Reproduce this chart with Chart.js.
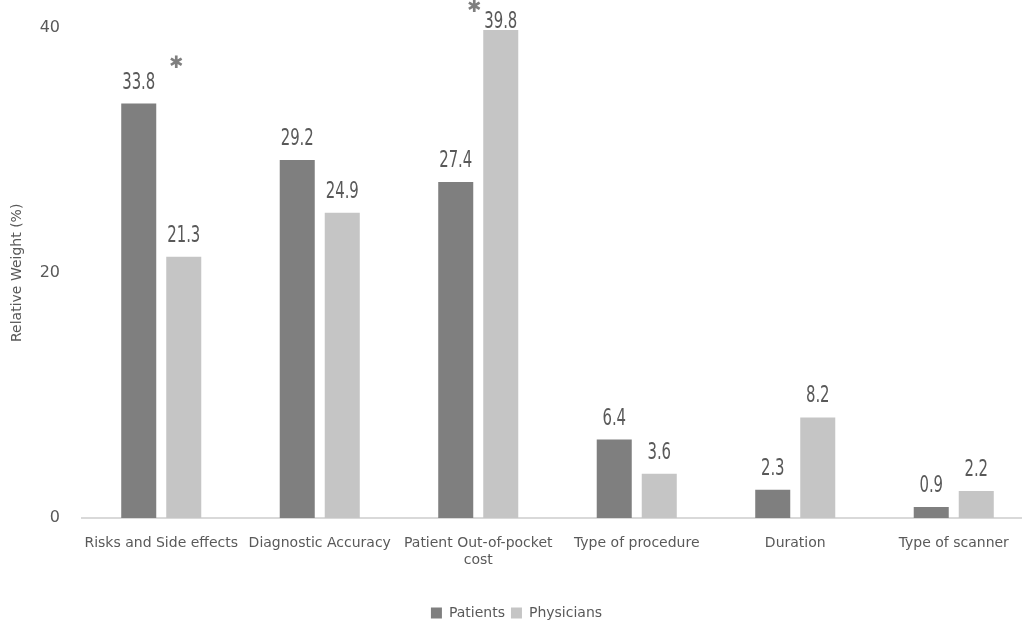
<!DOCTYPE html>
<html>
<head>
<meta charset="utf-8">
<script src="https://cdn.jsdelivr.net/npm/chart.js@4/dist/chart.umd.min.js"></script>
<style>
  html, body { margin: 0; padding: 0; background: #fff; overflow: hidden; }
  #wrap { width: 1033px; height: 634px; margin-top: -4px; }
</style>
</head>
<body>
<div id="wrap"><canvas id="weights"></canvas></div>
<script>
const categories = [
  'Risks and Side effects',
  'Diagnostic Accuracy',
  ['Patient Out-of-pocket', 'cost'],
  'Type of procedure',
  'Duration',
  'Type of scanner'
];
const patients = [33.8, 29.2, 27.4, 6.4, 2.3, 0.9];
const physicians = [21.3, 24.9, 39.8, 3.6, 8.2, 2.2];
// significance markers: category index and the height (in %) they sit at
const starIndex = [0, 2];
const starLevel = [37.1, 41.6];

const FAMILY = '"DejaVu Sans", sans-serif';
const STRETCH = 'condensed';
const TEXT = '#595959';

// value labels above each bar, squeezed horizontally for a tall narrow look;
// labels never rise above the top of the plot area
const barLabels = {
  id: 'barLabels',
  afterDatasetsDraw(chart) {
    const ctx = chart.ctx;
    const sx = 0.72;
    const top = chart.chartArea.top;
    ctx.save();
    ctx.font = 'condensed 23px ' + FAMILY;
    ctx.fillStyle = TEXT;
    ctx.textAlign = 'center';
    ctx.textBaseline = 'alphabetic';
    ctx.scale(sx, 1);
    chart.data.datasets.forEach((ds, i) => {
      chart.getDatasetMeta(i).data.forEach((bar, j) => {
        ctx.fillText(ds.data[j].toFixed(1), bar.x / sx, Math.max(bar.y - 15, top));
      });
    });
    ctx.restore();
  }
};

// asterisks next to the bar pairs that differ significantly
const stars = {
  id: 'stars',
  afterDatasetsDraw(chart) {
    const ctx = chart.ctx;
    const y = chart.scales.y;
    const bars = chart.getDatasetMeta(1).data;
    const shift = [10, -9];
    ctx.save();
    ctx.font = '17px ' + FAMILY;
    ctx.fillStyle = '#7f7f7f';
    ctx.textAlign = 'center';
    ctx.textBaseline = 'middle';
    starIndex.forEach((idx, k) => {
      const bar = bars[idx];
      ctx.fillText('\u2731', bar.x - bar.width / 2 + shift[k], y.getPixelForValue(starLevel[k]));
    });
    ctx.restore();
  }
};

new Chart(document.getElementById('weights'), {
  type: 'bar',
  data: {
    labels: categories,
    datasets: [
      {
        label: 'Patients',
        data: patients,
        backgroundColor: '#7f7f7f',
        categoryPercentage: 0.568,
        barPercentage: 0.778
      },
      {
        label: 'Physicians',
        data: physicians,
        backgroundColor: '#c5c5c5',
        categoryPercentage: 0.568,
        barPercentage: 0.778
      }
    ]
  },
  options: {
    responsive: true,
    maintainAspectRatio: false,
    animation: false,
    layout: { padding: { top: 17, right: 0, left: 0, bottom: 0 } },
    scales: {
      x: {
        grid: { display: false, drawTicks: false },
        border: { display: true, color: '#d9d9d9', width: 2 },
        ticks: {
          color: TEXT,
          font: { family: FAMILY, style: STRETCH, size: 14 },
          padding: 17,
          maxRotation: 0,
          autoSkip: false
        },
        afterFit(scale) { scale.height = 82; }
      },
      y: {
        min: 0,
        max: 40,
        grid: { display: false, drawTicks: false },
        border: { display: false },
        ticks: {
          stepSize: 20,
          color: TEXT,
          font: { family: FAMILY, style: STRETCH, size: 16 },
          padding: 22
        },
        title: {
          display: true,
          text: 'Relative Weight (%)',
          color: TEXT,
          font: { family: FAMILY, style: STRETCH, size: 14 },
          padding: { top: 9, bottom: 0 }
        },
        afterFit(scale) { scale.width = 82; }
      }
    },
    plugins: {
      legend: {
        position: 'bottom',
        labels: {
          color: TEXT,
          font: { family: FAMILY, style: STRETCH, size: 14 },
          boxWidth: 11,
          boxHeight: 11,
          padding: 6
        }
      },
      tooltip: { enabled: false }
    }
  },
  plugins: [barLabels, stars]
});
</script>
</body>
</html>
